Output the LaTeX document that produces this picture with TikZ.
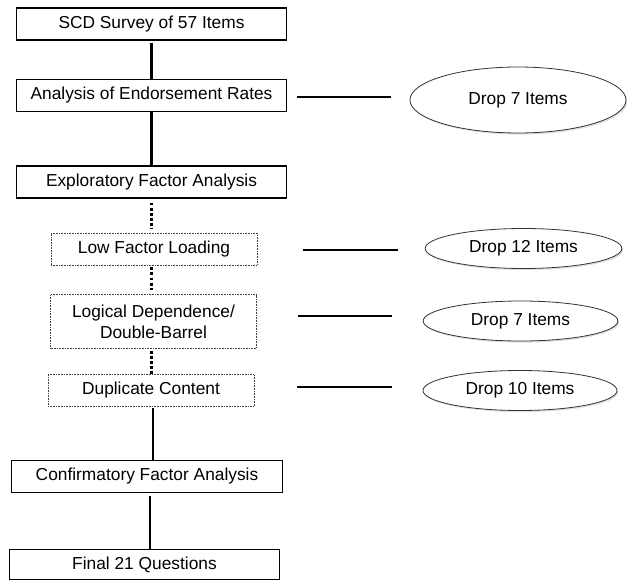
\documentclass[tikz,border=0pt]{standalone}
\usepackage{fontspec}
\setmainfont{Liberation Sans}
\usetikzlibrary{shapes.geometric,shadows,calc}

\begin{document}
\begin{tikzpicture}[x=0.75pt, y=-0.75pt,
    every node/.style={font=\fontsize{13}{15.5}\selectfont, align=center},
    mainbox/.style={draw, line width=0.8pt, minimum width=203pt, minimum height=24pt, inner sep=0pt},
    subbox/.style={draw=black!75, line width=0.6pt, dash pattern=on 0.6pt off 0.6pt,
                   minimum width=154.5pt, minimum height=24pt, inner sep=0pt},
    dropell/.style={ellipse, draw=black!80, line width=0.6pt, fill=white, inner sep=0pt,
                    minimum width=146pt, minimum height=30pt,
                    drop shadow={opacity=0.25, shadow xshift=1pt, shadow yshift=-1.2pt}},
    solidlink/.style={line width=2pt},
    dotlink/.style={line width=2pt, dash pattern=on 2.2pt off 1.6pt}]
  \useasboundingbox (0,0) rectangle (627,581);

  % main steps
  \node[mainbox] (scd) at (151.5,24) {SCD Survey of 57 Items};
  \node[mainbox] (aer) at (151.5,95.5) {Analysis of Endorsement Rates};
  \node[mainbox] (efa) at (151.5,182) {Exploratory Factor Analysis};
  \node[subbox] (lfl) at (154,249) {Low Factor Loading};
  \node[subbox, minimum height=40pt] (ldd) at (153.5,321.5) {Logical Dependence/\\Double-Barrel};
  \node[subbox] (dup) at (151,390.5) {Duplicate Content};
  \node[mainbox] (cfa) at (147,476.5) {Confirmatory Factor Analysis};
  \node[mainbox, minimum height=23pt] (fin) at (144.5,564.5) {Final 21 Questions};

  % dropped items
  \node[dropell, minimum width=162pt, minimum height=49.5pt] (drop1) at (518,100) {Drop 7 Items};
  \node[dropell, minimum width=147.5pt] (drop2) at (523.5,248.5) {Drop 12 Items};
  \node[dropell] (drop3) at (520.5,321) {Drop 7 Items};
  \node[dropell, minimum width=145.5pt] (drop4) at (520,390.5) {Drop 10 Items};

  % line ends
  \coordinate (dupfoot) at ($(dup.south)+(2,0)$);
  \coordinate (cfafoot) at ($(cfa.south)+(3,0)$);
  \coordinate (aerside) at ($(aer.east)+(0,1.5)$);
  \coordinate (lflside) at ($(lfl.east)+(0,1)$);
  \coordinate (lddside) at ($(ldd.east)+(0,-5.5)$);
  \coordinate (dupside) at ($(dup.east)+(0,-3.5)$);

  \draw[solidlink, shorten <=1.5pt] (scd.south) -- (scd.south |- aer.north);
  \draw[solidlink] (aer.south) -- (aer.south |- efa.north);
  \draw[dotlink, shorten <=3pt, shorten >=3pt] (efa.south) -- (efa.south |- lfl.north);
  \draw[dotlink, shorten <=1.5pt, shorten >=3pt] (lfl.south -| efa.south) -- (efa.south |- ldd.north);
  \draw[dotlink, shorten <=1.5pt] (ldd.south -| efa.south) -- (efa.south |- dup.north);
  \draw[solidlink, shorten <=1pt] (dupfoot) -- (dupfoot |- cfa.north);
  \draw[solidlink, shorten <=2pt] (cfafoot) -- (cfafoot |- fin.north);

  \draw[solidlink, shorten <=7.5pt, shorten >=14pt] (aerside) -- (aerside -| drop1.west);
  \draw[solidlink, shorten <=34.5pt, shorten >=20pt] (lflside) -- (lflside -| drop2.west);
  \draw[solidlink, shorten <=31pt, shorten >=23pt] (lddside) -- (lddside -| drop3.west);
  \draw[solidlink, shorten <=32pt, shorten >=23pt] (dupside) -- (dupside -| drop4.west);
\end{tikzpicture}
\end{document}
